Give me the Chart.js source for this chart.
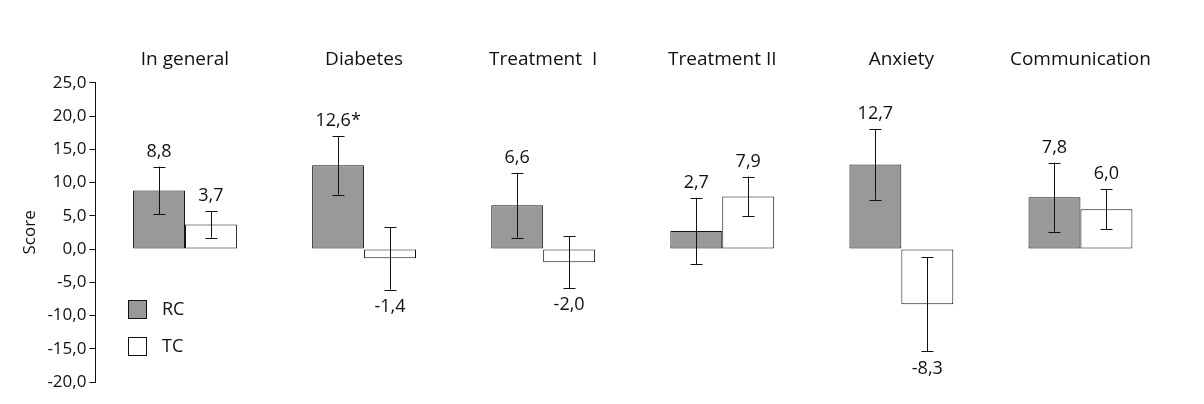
<!DOCTYPE html>
<html><head><meta charset="utf-8">
<script src="https://cdn.jsdelivr.net/npm/chart.js@4"></script>
<style>body{margin:0;background:#fff}#wrap{width:1204px;height:404px}</style>
</head><body><div id="wrap"><canvas id="c"></canvas></div>
<script>
const categories = ['In general', 'Diabetes', 'Treatment  I', 'Treatment II', 'Anxiety', 'Communication'];
const rcValues = [8.8, 12.6, 6.6, 2.7, 12.7, 7.8];
const tcValues = [3.7, -1.4, -2.0, 7.9, -8.3, 6.0];
const rcErrors = [3.6, 4.4, 4.9, 5.0, 5.3, 5.2];
const tcErrors = [2.0, 4.7, 3.9, 3.0, 7.1, 3.0];
const rcLabels = ['8,8', '12,6*', '6,6', '2,7', '12,7', '7,8'];
const tcLabels = ['3,7', '-1,4', '-2,0', '7,9', '-8,3', '6,0'];
const FONT = 'Open Sans';

const extras = {
  id: 'extras',
  afterDatasetsDraw(ch) {
    const ctx = ch.ctx, y = ch.scales.y;
    ctx.save();
    ctx.strokeStyle = '#111'; ctx.fillStyle = '#111'; ctx.lineWidth = 1;
    ctx.font = '18px "' + FONT + '"'; ctx.textAlign = 'center';
    [[rcValues, rcErrors, rcLabels], [tcValues, tcErrors, tcLabels]].forEach((s, di) => {
      ch.getDatasetMeta(di).data.forEach((bar, i) => {
        const v = s[0][i], e = s[1][i];
        const top = y.getPixelForValue(v + e), bot = y.getPixelForValue(v - e);
        const x = Math.round(bar.x) + 0.5;
        ctx.beginPath();
        ctx.moveTo(x, top); ctx.lineTo(x, bot);
        ctx.moveTo(x - 6, Math.round(top) + 0.5); ctx.lineTo(x + 6, Math.round(top) + 0.5);
        ctx.moveTo(x - 6, Math.round(bot) + 0.5); ctx.lineTo(x + 6, Math.round(bot) + 0.5);
        ctx.stroke();
        if (v >= 0) { ctx.textBaseline = 'bottom'; ctx.fillText(s[2][i], bar.x, top - 6); }
        else { ctx.textBaseline = 'top'; ctx.fillText(s[2][i], bar.x, bot + 8); }
      });
    });
    // legend
    ctx.textAlign = 'left'; ctx.textBaseline = 'middle';
    [['#999', 'RC', 310], ['#fff', 'TC', 347]].forEach(([c, t, cy]) => {
      ctx.fillStyle = c; ctx.fillRect(128.5, cy - 9.5, 18, 18);
      ctx.strokeRect(128.5, cy - 9.5, 18, 18);
      ctx.fillStyle = '#111'; ctx.fillText(t, 162, cy);
    });
    ctx.restore();
  }
};

new Chart(document.getElementById('c'), {
  type: 'bar',
  data: {
    labels: categories,
    datasets: [
      { label: 'RC', data: rcValues, backgroundColor: '#999', borderColor: '#111', borderWidth: 1, borderSkipped: false },
      { label: 'TC', data: tcValues, backgroundColor: '#fff', borderColor: '#111', borderWidth: 1, borderSkipped: false }
    ]
  },
  options: {
    responsive: true, maintainAspectRatio: false, animation: false,
    layout: { padding: { top: 44, right: 34, bottom: 22, left: 16 } },
    datasets: { bar: { categoryPercentage: 0.58, barPercentage: 1 } },
    plugins: { legend: { display: false }, tooltip: { enabled: false } },
    scales: {
      x: {
        position: 'top',
        grid: { display: false }, border: { display: false },
        ticks: { color: '#111', font: { family: FONT, size: 19 }, padding: 4 }
      },
      y: {
        min: -20, max: 25,
        grid: { drawOnChartArea: false, drawTicks: true, tickLength: 6, color: '#111' },
        border: { display: true, color: '#111' },
        ticks: { stepSize: 5, color: '#111', font: { family: FONT, size: 17 },
          callback: v => v.toFixed(1).replace('.', ',') },
        title: { display: true, text: 'Score', color: '#111', font: { family: FONT, size: 17 } }
      }
    }
  },
  plugins: [extras]
});
</script></body></html>
